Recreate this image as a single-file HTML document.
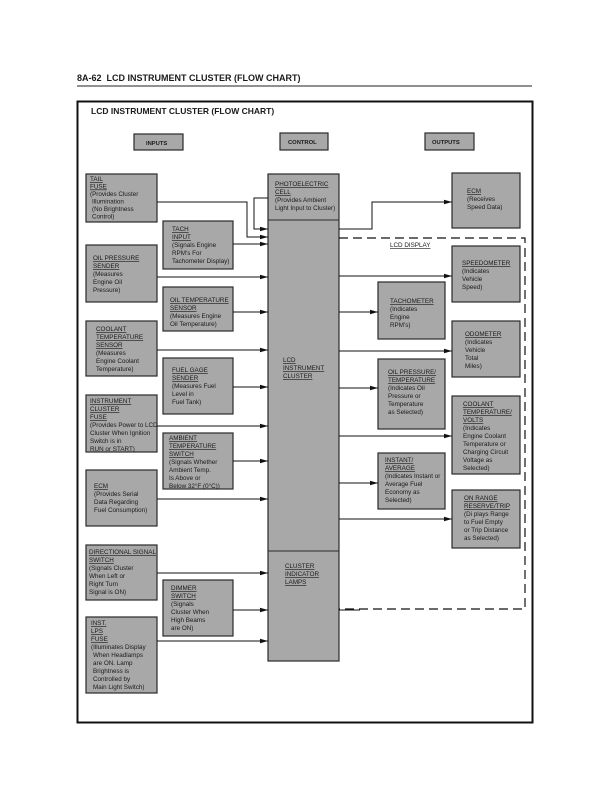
<!DOCTYPE html>
<html><head><meta charset="utf-8"><style>
html,body{margin:0;padding:0;background:#fff}
svg{display:block}
text{font-family:"Liberation Sans",sans-serif;fill:#1a1a1a}
.t{font-size:6.3px}
.u{text-decoration:underline}
.b{fill:#a8a8a8;stroke:#2a2a2a;stroke-width:1.2}
.l{stroke:#111;stroke-width:1;fill:none}
.d{stroke:#111;stroke-width:1.2;fill:none;stroke-dasharray:9,5}
</style></head><body>
<svg width="612" height="792" viewBox="0 0 612 792">
<defs><marker id="a" markerWidth="8" markerHeight="6" refX="8" refY="3" orient="auto" markerUnits="userSpaceOnUse"><path d="M0,0.8 L8,3 L0,5.2z" fill="#111"/></marker></defs>
<text x="77" y="81" style="font-size:9px;font-weight:bold">8A-62&#160;&#160;LCD INSTRUMENT CLUSTER (FLOW CHART)</text>
<line x1="77" y1="86" x2="532" y2="86" stroke="#222" stroke-width="1"/>
<rect x="77.5" y="101.5" width="455" height="621" fill="none" stroke="#111" stroke-width="2"/>
<text x="91" y="114" style="font-size:8.5px;font-weight:bold">LCD INSTRUMENT CLUSTER (FLOW CHART)</text>
<rect class="b" x="134" y="134" width="49" height="16"/><text x="146" y="145" style="font-size:5.8px;font-weight:bold">INPUTS</text>
<rect class="b" x="280" y="133" width="48" height="17"/><text x="288" y="144" style="font-size:5.8px;font-weight:bold">CONTROL</text>
<rect class="b" x="425" y="133" width="49" height="17"/><text x="432" y="144" style="font-size:5.8px;font-weight:bold">OUTPUTS</text>

<rect class="b" x="268" y="174" width="71" height="487"/>
<line x1="268" y1="220" x2="339" y2="220" stroke="#2a2a2a"/>
<line x1="268" y1="551" x2="339" y2="551" stroke="#2a2a2a"/>
<text class="t" x="275" y="186"><tspan class="u">PHOTOELECTRIC</tspan><tspan x="275" dy="8" class="u">CELL</tspan><tspan x="275" dy="8">(Provides Ambient</tspan><tspan x="275" dy="8">Light Input to Cluster)</tspan></text>
<text class="t" x="283" y="362"><tspan class="u">LCD</tspan><tspan x="283" dy="8" class="u">INSTRUMENT</tspan><tspan x="283" dy="8" class="u">CLUSTER</tspan></text>
<text class="t" x="285" y="568"><tspan class="u">CLUSTER</tspan><tspan x="285" dy="8" class="u">INDICATOR</tspan><tspan x="285" dy="8" class="u">LAMPS</tspan></text>

<rect class="b" x="86" y="174" width="71" height="48"/>
<text class="t" x="90" y="181"><tspan class="u">TAIL</tspan><tspan x="90" dy="7.5" class="u">FUSE</tspan><tspan x="90" dy="7.5">(Provides Cluster</tspan><tspan x="92" dy="7.5">Illumination</tspan><tspan x="92" dy="7.5">(No Brightness</tspan><tspan x="92" dy="7.5">Control)</tspan></text>
<rect class="b" x="86" y="245" width="71" height="57"/>
<text class="t" x="93" y="260"><tspan class="u">OIL PRESSURE</tspan><tspan x="93" dy="8" class="u">SENDER</tspan><tspan x="93" dy="8">(Measures</tspan><tspan x="93" dy="8">Engine Oil</tspan><tspan x="93" dy="8">Pressure)</tspan></text>
<rect class="b" x="86" y="321" width="71" height="55"/>
<text class="t" x="96" y="331"><tspan class="u">COOLANT</tspan><tspan x="96" dy="8" class="u">TEMPERATURE</tspan><tspan x="96" dy="8" class="u">SENSOR</tspan><tspan x="96" dy="8">(Measures</tspan><tspan x="96" dy="8">Engine Coolant</tspan><tspan x="96" dy="8">Temperature)</tspan></text>
<rect class="b" x="86" y="395" width="71" height="57"/>
<text class="t" x="90" y="403"><tspan class="u">INSTRUMENT</tspan><tspan x="90" dy="8" class="u">CLUSTER</tspan><tspan x="90" dy="8" class="u">FUSE</tspan><tspan x="90" dy="8">(Provides Power to LCD</tspan><tspan x="90" dy="8">Cluster When Ignition</tspan><tspan x="90" dy="8">Switch is in</tspan><tspan x="90" dy="8">RUN or START)</tspan></text>
<rect class="b" x="86" y="470" width="71" height="56"/>
<text class="t" x="94" y="488"><tspan class="u">ECM</tspan><tspan x="94" dy="8">(Provides Serial</tspan><tspan x="94" dy="8">Data Regarding</tspan><tspan x="94" dy="8">Fuel Consumption)</tspan></text>
<rect class="b" x="86" y="545" width="71" height="55"/>
<text class="t" x="89" y="554"><tspan class="u">DIRECTIONAL SIGNAL</tspan><tspan x="89" dy="8" class="u">SWITCH</tspan><tspan x="89" dy="8">(Signals Cluster</tspan><tspan x="89" dy="8">When Left or</tspan><tspan x="89" dy="8">Right Turn</tspan><tspan x="89" dy="8">Signal is ON)</tspan></text>
<rect class="b" x="86" y="617" width="71" height="76"/>
<text class="t" x="91" y="625"><tspan class="u">INST.</tspan><tspan x="91" dy="8" class="u">LPS</tspan><tspan x="91" dy="8" class="u">FUSE</tspan><tspan x="91" dy="8">(Illuminates Display</tspan><tspan x="93" dy="8">When Headlamps</tspan><tspan x="93" dy="8">are ON. Lamp</tspan><tspan x="93" dy="8">Brightness is</tspan><tspan x="93" dy="8">Controlled by</tspan><tspan x="93" dy="8">Main Light Switch)</tspan></text>

<rect class="b" x="163" y="221" width="70" height="48"/>
<text class="t" x="172" y="231"><tspan class="u">TACH</tspan><tspan x="172" dy="8" class="u">INPUT</tspan><tspan x="172" dy="8">(Signals Engine</tspan><tspan x="172" dy="8">RPM's For</tspan><tspan x="172" dy="8">Tachometer Display)</tspan></text>
<rect class="b" x="163" y="287" width="70" height="44"/>
<text class="t" x="170" y="302"><tspan class="u">OIL TEMPERATURE</tspan><tspan x="170" dy="8" class="u">SENSOR</tspan><tspan x="170" dy="8">(Measures Engine</tspan><tspan x="170" dy="8">Oil Temperature)</tspan></text>
<rect class="b" x="163" y="358" width="70" height="56"/>
<text class="t" x="172" y="372"><tspan class="u">FUEL GAGE</tspan><tspan x="172" dy="8" class="u">SENDER</tspan><tspan x="172" dy="8">(Measures Fuel</tspan><tspan x="172" dy="8">Level in</tspan><tspan x="172" dy="8">Fuel Tank)</tspan></text>
<rect class="b" x="163" y="433" width="70" height="56"/>
<text class="t" x="169" y="440"><tspan class="u">AMBIENT</tspan><tspan x="169" dy="8" class="u">TEMPERATURE</tspan><tspan x="169" dy="8" class="u">SWITCH</tspan><tspan x="169" dy="8">(Signals Whether</tspan><tspan x="169" dy="8">Ambient Temp.</tspan><tspan x="169" dy="8">Is Above or</tspan><tspan x="169" dy="8">Below 32°F (0°C))</tspan></text>
<rect class="b" x="163" y="580" width="70" height="56"/>
<text class="t" x="171" y="590"><tspan class="u">DIMMER</tspan><tspan x="171" dy="8" class="u">SWITCH</tspan><tspan x="171" dy="8">(Signals</tspan><tspan x="171" dy="8">Cluster When</tspan><tspan x="171" dy="8">High Beams</tspan><tspan x="171" dy="8">are ON)</tspan></text>

<path class="l" d="M268,198 H254 V229 H268" marker-end="url(#a)"/>
<path class="l" d="M157,202 H247 V237 H268" marker-end="url(#a)"/>
<path class="l" d="M233,244 H268" marker-end="url(#a)"/>
<path class="l" d="M157,277 H268" marker-end="url(#a)"/>
<path class="l" d="M233,312 H268" marker-end="url(#a)"/>
<path class="l" d="M157,350 H268" marker-end="url(#a)"/>
<path class="l" d="M233,387 H268" marker-end="url(#a)"/>
<path class="l" d="M157,426 H268" marker-end="url(#a)"/>
<path class="l" d="M233,461 H268" marker-end="url(#a)"/>
<path class="l" d="M157,499 H268" marker-end="url(#a)"/>
<path class="l" d="M157,573 H268" marker-end="url(#a)"/>
<path class="l" d="M233,610 H268" marker-end="url(#a)"/>
<path class="l" d="M157,641 H268" marker-end="url(#a)"/>

<rect class="b" x="452" y="173" width="68" height="55"/>
<text class="t" x="467" y="193"><tspan class="u">ECM</tspan><tspan x="467" dy="8">(Receives</tspan><tspan x="467" dy="8">Speed Data)</tspan></text>
<path class="l" d="M339,229 H372 V202 H452" marker-end="url(#a)"/>
<path class="d" d="M339,238 H525 V609 H339"/>
<line x1="339" y1="610" x2="360" y2="610" stroke="#111" stroke-width="1"/>
<text class="t u" x="390" y="247">LCD DISPLAY</text>

<rect class="b" x="452" y="246" width="68" height="56"/>
<text class="t" x="462" y="265"><tspan class="u">SPEEDOMETER</tspan><tspan x="462" dy="8">(Indicates</tspan><tspan x="462" dy="8">Vehicle</tspan><tspan x="462" dy="8">Speed)</tspan></text>
<path class="l" d="M339,276 H452" marker-end="url(#a)"/>
<rect class="b" x="378" y="282" width="67" height="57"/>
<text class="t" x="390" y="303"><tspan class="u">TACHOMETER</tspan><tspan x="390" dy="8">(Indicates</tspan><tspan x="390" dy="8">Engine</tspan><tspan x="390" dy="8">RPM's)</tspan></text>
<path class="l" d="M339,312 H378" marker-end="url(#a)"/>
<rect class="b" x="452" y="321" width="68" height="56"/>
<text class="t" x="465" y="336"><tspan class="u">ODOMETER</tspan><tspan x="465" dy="8">(Indicates</tspan><tspan x="465" dy="8">Vehicle</tspan><tspan x="465" dy="8">Total</tspan><tspan x="465" dy="8">Miles)</tspan></text>
<path class="l" d="M339,351 H452" marker-end="url(#a)"/>
<rect class="b" x="378" y="359" width="67" height="70"/>
<text class="t" x="388" y="374"><tspan class="u">OIL PRESSURE/</tspan><tspan x="388" dy="8" class="u">TEMPERATURE</tspan><tspan x="388" dy="8">(Indicates Oil</tspan><tspan x="388" dy="8">Pressure or</tspan><tspan x="388" dy="8">Temperature</tspan><tspan x="388" dy="8">as Selected)</tspan></text>
<path class="l" d="M339,388 H378" marker-end="url(#a)"/>
<rect class="b" x="452" y="396" width="68" height="78"/>
<text class="t" x="463" y="406"><tspan class="u">COOLANT</tspan><tspan x="463" dy="8" class="u">TEMPERATURE/</tspan><tspan x="463" dy="8" class="u">VOLTS</tspan><tspan x="463" dy="8">(Indicates</tspan><tspan x="463" dy="8">Engine Coolant</tspan><tspan x="463" dy="8">Temperature or</tspan><tspan x="463" dy="8">Charging Circuit</tspan><tspan x="463" dy="8">Voltage as</tspan><tspan x="463" dy="8">Selected)</tspan></text>
<path class="l" d="M339,436 H452" marker-end="url(#a)"/>
<rect class="b" x="378" y="453" width="67" height="56"/>
<text class="t" x="385" y="462"><tspan class="u">INSTANT/</tspan><tspan x="385" dy="8" class="u">AVERAGE</tspan><tspan x="385" dy="8">(Indicates Instant or</tspan><tspan x="385" dy="8">Average Fuel</tspan><tspan x="385" dy="8">Economy as</tspan><tspan x="385" dy="8">Selected)</tspan></text>
<path class="l" d="M339,483 H378" marker-end="url(#a)"/>
<rect class="b" x="452" y="490" width="68" height="58"/>
<text class="t" x="464" y="500"><tspan class="u">ON RANGE</tspan><tspan x="464" dy="8" class="u">RESERVE/TRIP</tspan><tspan x="464" dy="8">(Di plays Range</tspan><tspan x="464" dy="8">to Fuel Empty</tspan><tspan x="464" dy="8">or Trip Distance</tspan><tspan x="464" dy="8">as Selected)</tspan></text>
<path class="l" d="M339,519 H452" marker-end="url(#a)"/>
</svg>
</body></html>
